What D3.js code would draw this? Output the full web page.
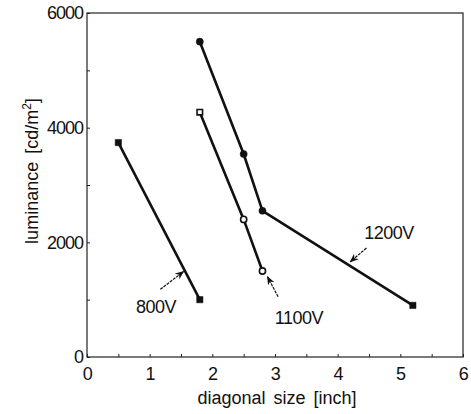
<!DOCTYPE html>
<html>
<head>
<meta charset="utf-8">
<script src="https://cdn.jsdelivr.net/npm/d3@7"></script>
<style>
  body { margin: 0; background: #fff; }
  text { font-family: "Liberation Sans", Arial, sans-serif; fill: #111; }
</style>
</head>
<body>
<svg id="chart" width="471" height="414"></svg>
<script>
// data
const series = ['800V', '1100V', '1200V']
const sizes800 = [0.5, 1.8]
const lum800 = [3740, 1000]
const sizes1100 = [1.8, 2.5, 2.8]
const lum1100 = [4270, 2400, 1500]
const sizes1200 = [1.8, 2.5, 2.8, 5.2]
const lum1200 = [5500, 3540, 2550, 900]
const markers800 = ['fsquare', 'fsquare']
const markers1100 = ['osquare', 'ocircle', 'ocircle']
const markers1200 = ['fcircle', 'fcircle', 'fcircle', 'fsquare']

// label position and where the arrow points, in data units
const labelX = [1.1, 3.38, 4.82]
const labelY = [870, 680, 2170]
const arrowFromX = [1.17, 3.05, 4.46]
const arrowFromY = [1180, 1050, 1900]
const arrowToX = [1.54, 2.88, 4.2]
const arrowToY = [1490, 1400, 1660]

const xTicks = [0, 1, 2, 3, 4, 5, 6]
const yTicks = [0, 2000, 4000, 6000]

const margin = { top: 13, right: 8, bottom: 57, left: 87 }
const fullWidth = 471
const fullHeight = 414

const svg = d3.select('#chart')

const x = d3.scaleLinear().domain([0, 6]).range([margin.left, fullWidth - margin.right])
const y = d3.scaleLinear().domain([0, 6000]).range([fullHeight - margin.bottom, margin.top])

const defs = svg.append('defs')
defs.append('marker')
    .attr('id', 'arrow')
    .attr('viewBox', '0 0 10 10')
    .attr('refX', 9).attr('refY', 5)
    .attr('markerWidth', 9).attr('markerHeight', 9)
    .attr('markerUnits', 'userSpaceOnUse')
    .attr('orient', 'auto')
  .append('path')
    .attr('d', 'M0,1 L10,5 L0,9 L3,5 Z')
    .attr('fill', '#111')

// frame
svg.append('rect')
    .attr('x', x(0)).attr('y', y(6000))
    .attr('width', x(6) - x(0)).attr('height', y(0) - y(6000))
    .attr('fill', 'none')
    .attr('stroke', '#222')
    .attr('stroke-width', 1.2)

// axes, ticks point inward
const xAxis = d3.axisBottom(x).tickValues(d3.range(0, 6.01, 0.5))
    .tickSizeInner(-3).tickSizeOuter(0)
    .tickFormat(d => xTicks.includes(d) ? d : '')
const yAxis = d3.axisLeft(y).tickValues(d3.range(0, 6001, 1000))
    .tickSizeInner(-3).tickSizeOuter(0)
    .tickFormat(d => yTicks.includes(d) ? d : '')

const gx = svg.append('g')
    .attr('transform', `translate(0, ${y(0)})`)
    .call(xAxis)
gx.select('.domain').remove()
gx.selectAll('text').attr('dy', '1.05em').attr('y', 4)
    .style('font-size', '18px').attr('letter-spacing', '-0.5px')

const gy = svg.append('g')
    .attr('transform', `translate(${x(0)}, 0)`)
    .call(yAxis)
gy.select('.domain').remove()
gy.selectAll('text').attr('x', -4)
    .style('font-size', '18px').attr('letter-spacing', '-1px')

svg.selectAll('.tick line').attr('stroke', '#222')
svg.selectAll('.tick text').attr('fill', '#111').style('font-family', '"Liberation Sans", Arial, sans-serif')

// axis titles
svg.append('text')
    .attr('x', (x(0) + x(6)) / 2 + 2)
    .attr('y', 404)
    .attr('text-anchor', 'middle')
    .style('font-size', '18px')
    .attr('word-spacing', '3px')
    .text('diagonal size [inch]')

const yTitle = svg.append('text')
    .attr('transform', `translate(38, ${(y(0) + y(6000)) / 2 - 14}) rotate(-90)`)
    .attr('text-anchor', 'middle')
    .style('font-size', '18px')
    .attr('word-spacing', '3px')
yTitle.append('tspan').text('luminance [cd/m')
yTitle.append('tspan').attr('dy', -7).style('font-size', '12px').text('2')
yTitle.append('tspan').attr('dy', 7).text(']')

// lines and markers
const allSizes = [sizes800, sizes1100, sizes1200]
const allLum = [lum800, lum1100, lum1200]
const allMarkers = [markers800, markers1100, markers1200]

const line = d3.line().x(d => x(d[0])).y(d => y(d[1]))

series.forEach((name, i) => {
    const pts = allSizes[i].map((s, j) => [s, allLum[i][j], allMarkers[i][j]])

    svg.append('path')
        .datum(pts)
        .attr('d', line)
        .attr('fill', 'none')
        .attr('stroke', '#111')
        .attr('stroke-width', 2.6)

    svg.selectAll(null)
        .data(pts)
        .enter()
        .append('path')
        .attr('transform', d => `translate(${x(d[0])}, ${y(d[1])})`)
        .attr('d', d => d3.symbol()
            .type(d[2].endsWith('square') ? d3.symbolSquare : d3.symbolCircle)
            .size(d[2].startsWith('o') ? 30 : 40)())
        .attr('fill', d => d[2].startsWith('o') ? '#fff' : '#111')
        .attr('stroke', '#111')
        .attr('stroke-width', d => d[2].startsWith('o') ? 1.6 : 0.5)

    // arrow and label
    svg.append('line')
        .attr('x1', x(arrowFromX[i])).attr('y1', y(arrowFromY[i]))
        .attr('x2', x(arrowToX[i])).attr('y2', y(arrowToY[i]))
        .attr('stroke', '#111')
        .attr('stroke-width', 1.2)
        .attr('stroke-dasharray', '3,1')
        .attr('marker-end', 'url(#arrow)')

    svg.append('text')
        .attr('x', x(labelX[i]))
        .attr('y', y(labelY[i]))
        .attr('text-anchor', 'middle')
        .attr('dy', '0.35em')
        .style('font-size', '18px')
        .attr('letter-spacing', '-0.5px')
        .text(name)
})
</script>
</body>
</html>
